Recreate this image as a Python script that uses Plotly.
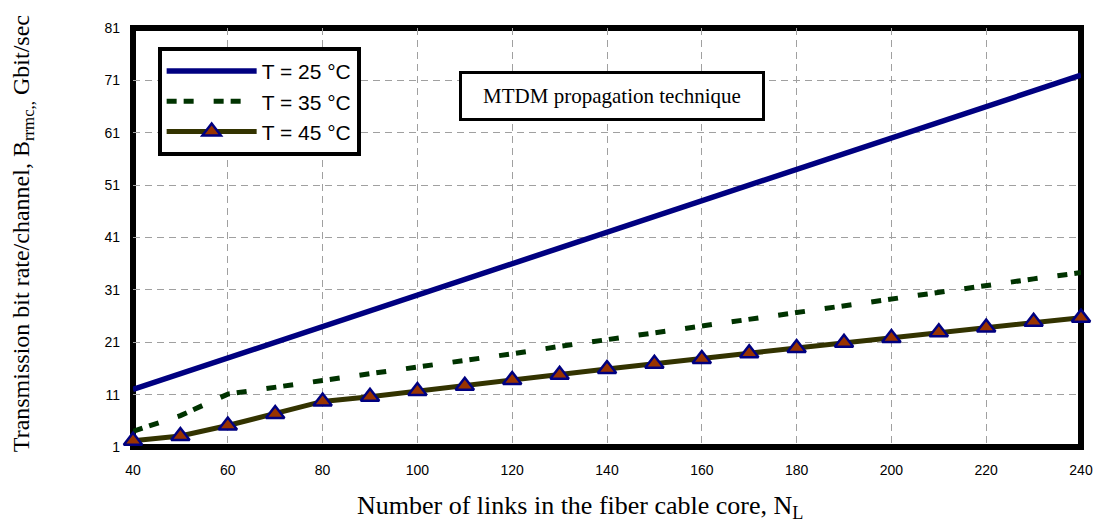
import plotly.graph_objects as go

links = [40, 50, 60, 70, 80, 90, 100, 110, 120, 130, 140, 150, 160, 170, 180, 190, 200, 210, 220, 230, 240]
rate_25 = [12, 15, 18, 21, 24, 27, 30, 33, 36, 39, 42, 45, 48, 51, 54, 57, 60, 63, 66, 69, 72]
rate_35 = [4.0, 7.0, 11.1, 12.3, 13.7, 15.0, 16.2, 17.5, 18.8, 20.2, 21.6, 22.8, 24.1, 25.4, 26.7, 28.0, 29.4, 30.6, 31.9, 33.1, 34.3]
rate_45 = [2.2, 3.1, 5.1, 7.3, 9.7, 10.6, 11.7, 12.7, 13.8, 14.8, 15.9, 16.9, 17.8, 18.9, 19.9, 20.9, 21.8, 22.9, 23.8, 24.9, 25.7]

x_ticks = [40, 60, 80, 100, 120, 140, 160, 180, 200, 220, 240]
y_ticks = [1, 11, 21, 31, 41, 51, 61, 71, 81]

fig = go.Figure()
fig.add_trace(go.Scatter(x=links, y=rate_25, mode="lines", name="T = 25 °C",
                         line=dict(color="#000080", width=5.5), cliponaxis=False))
fig.add_trace(go.Scatter(x=links, y=rate_35, mode="lines", name="T = 35 °C",
                         line=dict(color="#003300", width=5, dash="10px,7px,10px,20px"), cliponaxis=False))
fig.add_trace(go.Scatter(x=links, y=rate_45, mode="lines+markers", name="T = 45 °C",
                         line=dict(color="#333300", width=5),
                         marker=dict(symbol="triangle-up", size=16, color="#993300",
                                     line=dict(color="#000080", width=2.5)),
                         cliponaxis=False))

tickfont = dict(family="Liberation Sans, Arial", size=14, color="black")
grid = dict(showgrid=True, gridcolor="#a0a0a0", gridwidth=1, griddash="7px,5px",
            zeroline=False, showline=False, ticks="", tickfont=tickfont)

fig.update_xaxes(range=[40, 240], tickvals=x_ticks, ticklabelstandoff=13, **grid)
fig.update_yaxes(range=[1, 81], tickvals=y_ticks, ticklabelstandoff=12, **grid)

fig.update_layout(
    width=1097, height=515,
    margin=dict(l=125, r=17, t=16, b=76),
    paper_bgcolor="white", plot_bgcolor="white",
    showlegend=True,
    legend=dict(x=0.026, y=0.955, xanchor="left", yanchor="top",
                bordercolor="black", borderwidth=4, bgcolor="white",
                font=dict(family="Liberation Sans, Arial", size=21, color="black"),
                itemwidth=90, tracegroupgap=0),
    shapes=[dict(type="rect", xref="paper", yref="paper", x0=0, x1=1, y0=0, y1=1,
                 line=dict(color="black", width=6), layer="below")],
    annotations=[
        dict(text="MTDM propagation technique", x=0.505, y=0.838, xref="paper", yref="paper",
             showarrow=False, font=dict(family="Liberation Serif, Times New Roman", size=21, color="black"),
             bordercolor="black", borderwidth=3, borderpad=2, bgcolor="white",
             width=296, height=40, xanchor="center", yanchor="middle"),
        dict(text="Number of links in the fiber cable core, N<sub>L</sub>", x=0.471, y=-0.143,
             xref="paper", yref="paper", showarrow=False, xanchor="center", yanchor="middle",
             font=dict(family="Liberation Serif, Times New Roman", size=26, color="black")),
        dict(text="Transmission bit rate/channel, B<sub>rrmc,,</sub> Gbit/sec", x=-0.116, y=0.508,
             xref="paper", yref="paper", showarrow=False, xanchor="center", yanchor="middle",
             textangle=-90,
             font=dict(family="Liberation Serif, Times New Roman", size=24, color="black")),
    ],
)

fig.write_html("out.html")
